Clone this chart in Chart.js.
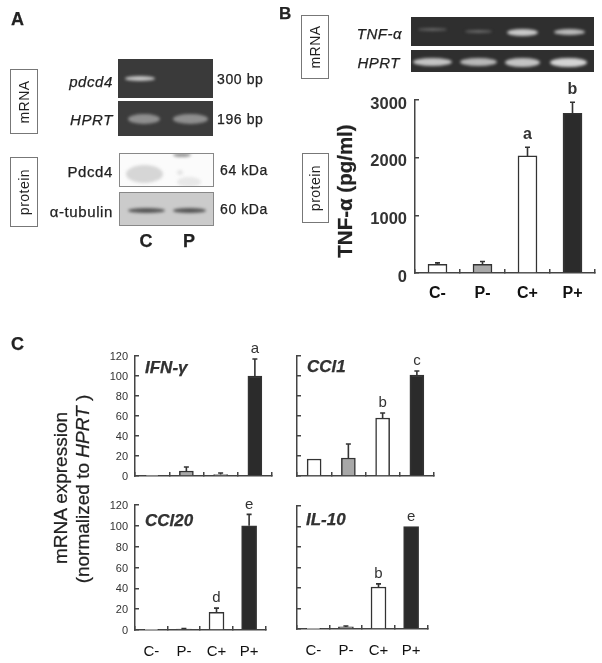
<!DOCTYPE html>
<html>
<head>
<meta charset="utf-8">
<script src="https://cdn.jsdelivr.net/npm/chart.js@4"></script>
<style>
  html, body { margin: 0; padding: 0; background: #fff; }
  #page { position: relative; width: 602px; height: 663px; overflow: hidden; font-family: "Liberation Sans", Arial, sans-serif; color: #222; filter: blur(0.45px); }
  #page canvas { position: absolute; }
  .txt { position: absolute; white-space: nowrap; line-height: 1; -webkit-text-stroke: 0.25px #222; }
  .box { position: absolute; border: 1px solid #777; background: #fff; box-sizing: border-box; display: flex; align-items: center; justify-content: center; }
  .box span { transform: rotate(-90deg); white-space: nowrap; font-size: 14px; letter-spacing: 0.5px; }
  .gel { position: absolute; box-sizing: border-box; overflow: hidden; }
  .band { position: absolute; border-radius: 50%; filter: blur(1.6px); }
</style>
</head>
<body>
<div id="page"></div>
<script>
// Dữ liệu
const categories = ['C-', 'P-', 'C+', 'P+'];
const barColors = ['#ffffff', '#a8a8a8', '#ffffff', '#2b2b2b'];

const tnfValues = [150, 150, 2030, 2770];
const tnfErrors = [175, 200, 2180, 2960];
const tnfLetters = ['', '', 'a', 'b'];
const tnfTicks = [0, 1000, 2000, 3000];

const ifnValues = [0.5, 5, 1.5, 100];
const ifnErrors = [0.5, 9, 3, 117];
const ifnLetters = ['', '', '', 'a'];

const cclOneValues = [17, 18, 58, 101];
const cclOneErrors = [17, 32, 63, 105];
const cclOneLetters = ['', '', 'b', 'c'];

const ccl20Values = [0.3, 1, 17, 100];
const ccl20Errors = [0.3, 1.5, 21, 111];
const ccl20Letters = ['', '', 'd', 'e'];

const il10Values = [0.3, 2, 41, 100];
const il10Errors = [0.3, 3, 44, 100];
const il10Letters = ['', '', 'b', 'e'];

const expressionTicks = [0, 20, 40, 60, 80, 100, 120];

const page = document.getElementById('page');

// Thanh sai số và chữ cái phía trên cột
const errorBarPlugin = {
  id: 'errorBars',
  afterDatasetsDraw(chart, args, opts) {
    const ctx = chart.ctx;
    const y = chart.scales.y;
    const x = chart.scales.x;
    ctx.save();
    ctx.strokeStyle = '#333';
    ctx.lineWidth = 1.6;
    categories.forEach((c, i) => {
      const px = x.getPixelForValue(i);
      const top = y.getPixelForValue(opts.errors[i]);
      const base = y.getPixelForValue(opts.values[i]);
      if (opts.errors[i] > opts.values[i]) {
        ctx.beginPath();
        ctx.moveTo(px, base);
        ctx.lineTo(px, top);
        ctx.moveTo(px - 2.5, top);
        ctx.lineTo(px + 2.5, top);
        ctx.stroke();
      }
      if (opts.letters[i]) {
        ctx.fillStyle = '#333';
        ctx.font = opts.letterFont;
        ctx.textAlign = 'center';
        ctx.textBaseline = 'middle';
        ctx.fillText(opts.letters[i], px, top - opts.letterGap);
      }
    });
    ctx.restore();
  }
};

function makePanel(cfg) {
  const padTop = 24, padRight = 4;
  const canvas = document.createElement('canvas');
  canvas.width = cfg.yWidth + cfg.plotW + padRight;
  canvas.height = padTop + cfg.plotH + cfg.xHeight;
  canvas.style.left = (cfg.axisX - cfg.yWidth) + 'px';
  canvas.style.top = (cfg.axisY - cfg.plotH - padTop) + 'px';
  page.appendChild(canvas);

  new Chart(canvas.getContext('2d'), {
    type: 'bar',
    data: {
      labels: categories,
      datasets: [{
        data: cfg.values,
        backgroundColor: barColors,
        borderColor: '#333',
        borderWidth: 1.5,
        barThickness: cfg.barW
      }]
    },
    plugins: [errorBarPlugin],
    options: {
      responsive: false,
      animation: false,
      devicePixelRatio: 1,
      layout: { padding: { top: padTop, right: padRight, left: 0, bottom: 0 } },
      plugins: {
        legend: { display: false },
        tooltip: { enabled: false },
        errorBars: {
          values: cfg.values,
          errors: cfg.errors,
          letters: cfg.letters,
          letterFont: cfg.letterFont,
          letterGap: cfg.letterGap
        }
      },
      scales: {
        x: {
          afterFit: s => { s.height = cfg.xHeight; },
          border: { color: '#444', width: 1.5 },
          grid: { color: '#444', drawOnChartArea: false, tickLength: -4, lineWidth: 1.5 },
          ticks: {
            display: cfg.showX,
            color: '#111',
            padding: cfg.xPad,
            font: { family: 'Liberation Sans', size: cfg.xFont, weight: cfg.xWeight },
            maxRotation: 0
          }
        },
        y: {
          min: 0,
          max: cfg.max,
          afterFit: s => { s.width = cfg.yWidth; },
          afterBuildTicks: s => { s.ticks = cfg.ticks.map(v => ({ value: v })); },
          border: { color: '#444', width: 1.5 },
          grid: { color: '#444', drawOnChartArea: false, tickLength: -4, lineWidth: 1.5 },
          ticks: {
            display: cfg.showY,
            color: '#333',
            padding: cfg.yPad,
            labelOffset: cfg.yShift,
            callback: v => String(v),
            font: { family: 'Liberation Sans', size: cfg.yFont, weight: cfg.yWeight }
          }
        }
      }
    }
  });
}

// Biểu đồ B
makePanel({
  axisX: 415, axisY: 273, plotW: 180, plotH: 173, yWidth: 50, xHeight: 30, barW: 19, max: 3000, ticks: tnfTicks,
  values: tnfValues, errors: tnfErrors, letters: tnfLetters,
  letterFont: 'bold 16px "Liberation Sans"', letterGap: 13,
  showX: true, showY: true, xFont: 16, xWeight: 'bold', xPad: 15,
  yFont: 16.5, yWeight: 'bold', yPad: 12, yShift: 4
});

// Biểu đồ C
const smallPanel = {
  plotW: 137, yWidth: 40, max: 120, ticks: expressionTicks,
  letterFont: '15px "Liberation Sans"', letterGap: 10,
  xFont: 15, xWeight: 'normal', xPad: 17,
  yFont: 11, yWeight: 'normal', yPad: 11, yShift: 1
};
makePanel(Object.assign({}, smallPanel, { axisX: 135, axisY: 476, plotH: 120, xHeight: 24, barW: 14, showX: false, showY: true,
  values: ifnValues, errors: ifnErrors, letters: ifnLetters }));
makePanel(Object.assign({}, smallPanel, { axisX: 297, axisY: 476, plotH: 120, xHeight: 24, barW: 14, showX: false, showY: false,
  values: cclOneValues, errors: cclOneErrors, letters: cclOneLetters }));
makePanel(Object.assign({}, smallPanel, { axisX: 135, axisY: 630, plotH: 125, xHeight: 30, barW: 15, showX: true, showY: true,
  values: ccl20Values, errors: ccl20Errors, letters: ccl20Letters }));
makePanel(Object.assign({}, smallPanel, { axisX: 297, axisY: 629, plotH: 123, xHeight: 30, barW: 15, showX: true, showY: false,
  values: il10Values, errors: il10Errors, letters: il10Letters }));

// Chữ
function addText(html, x, y, align, style) {
  const d = document.createElement('div');
  d.className = 'txt';
  d.innerHTML = html;
  d.style.cssText = 'left:' + x + 'px;top:' + y + 'px;' + style;
  const tx = align === 'right' ? '-100%' : align === 'center' ? '-50%' : '0';
  d.style.transform = 'translate(' + tx + ',-50%)' + (style.includes('--rot') ? ' rotate(-90deg)' : '');
  page.appendChild(d);
}

function addBox(text, x, y, w, h) {
  const d = document.createElement('div');
  d.className = 'box';
  d.style.cssText = 'left:' + x + 'px;top:' + y + 'px;width:' + w + 'px;height:' + h + 'px;';
  d.innerHTML = '<span>' + text + '</span>';
  page.appendChild(d);
}

// Dải gel / western blot
function addGel(x, y, w, h, bg, bands) {
  const d = document.createElement('div');
  d.className = 'gel';
  d.style.cssText = 'left:' + x + 'px;top:' + y + 'px;width:' + w + 'px;height:' + h + 'px;background:' + bg + ';';
  bands.forEach(b => {
    const s = document.createElement('div');
    s.className = 'band';
    s.style.cssText = 'left:' + (b[0] - x) + 'px;width:' + b[1] + 'px;top:' + (b[2] - y - b[3] / 2) + 'px;height:' + b[3] + 'px;background:' + b[4] + ';';
    d.appendChild(s);
  });
  page.appendChild(d);
}

addText('A', 11, 19, 'left', 'font-size:18px;font-weight:bold;');
addText('B', 279, 13, 'left', 'font-size:17px;font-weight:bold;');
addText('C', 11, 344, 'left', 'font-size:18px;font-weight:bold;');

addBox('mRNA', 10, 69, 28, 65);
addBox('protein', 10, 157, 28, 70);
addBox('mRNA', 301, 15, 28, 64);
addBox('protein', 302, 153, 27, 70);

// A
addGel(118, 59, 95, 39, '#3a3a3a', [[125, 30, 78, 5, '#c4c4c4']]);
addGel(118, 101, 95, 35, '#3c3c3c', [[128, 32, 119, 10, '#8f8f8f'], [173, 35, 119, 10, '#8f8f8f']]);
addGel(119, 153, 95, 34, '#fbfbfb', [[125, 37, 173, 18, '#d6d6d6'], [176, 6, 171, 5, '#e4e4e4'], [176, 24, 181, 10, '#e8e8e8'], [172, 18, 154, 4, '#999']]);
addGel(119, 192, 95, 34, '#cbcbcb', [[127, 37, 209, 5, '#555'], [172, 33, 209, 5, '#555']]);
document.querySelectorAll('.gel').forEach((g, i) => { if (i > 1) g.style.border = '1px solid #888'; });

const labelA = 'font-size:14px;letter-spacing:0.6px;';
addText('<i>pdcd4</i>', 113, 81, 'right', labelA + 'font-size:15px;');
addText('<i>HPRT</i>', 113, 119, 'right', labelA + 'font-size:15px;');
addText('Pdcd4', 113, 171, 'right', labelA + 'font-size:15px;');
addText('α-tubulin', 113, 211, 'right', labelA + 'font-size:15px;');
addText('300 bp', 217, 79, 'left', labelA);
addText('196 bp', 217, 119, 'left', labelA);
addText('64 kDa', 220, 170, 'left', labelA);
addText('60 kDa', 220, 209, 'left', labelA);
addText('C', 146, 241, 'center', 'font-size:18px;font-weight:bold;');
addText('P', 189, 241, 'center', 'font-size:18px;font-weight:bold;');

// B
addGel(411, 17, 183, 29, '#2f2f2f', [[418, 29, 29, 3, '#666'], [465, 27, 31, 3, '#6a6a6a'], [507, 31, 32, 7, '#c9c9c9'], [554, 31, 32, 6, '#bbbbbb']]);
addGel(411, 50, 183, 22, '#2f2f2f', [[413, 39, 62, 8, '#c4c4c4'], [460, 37, 62, 8, '#b8b8b8'], [505, 35, 62, 9, '#c4c4c4'], [550, 37, 62, 9, '#d4d4d4']]);
addText('<i>TNF-α</i>', 402, 33, 'right', 'font-size:15px;letter-spacing:0.5px;');
addText('<i>HPRT</i>', 400, 62, 'right', 'font-size:15px;letter-spacing:0.5px;');
addText('TNF-α (pg/ml)', 345, 191, 'center', '--rot:1;font-size:20.5px;font-weight:bold;');

// C
addText('<i><b>IFN-γ</b></i>', 145, 367, 'left', 'font-size:17px;color:#333;');
addText('<i><b>CCl1</b></i>', 307, 366, 'left', 'font-size:17px;color:#333;');
addText('<i><b>CCl20</b></i>', 145, 520, 'left', 'font-size:17px;color:#333;');
addText('<i><b>IL-10</b></i>', 306, 519, 'left', 'font-size:17px;color:#333;');
addText('mRNA expression', 60, 488, 'center', '--rot:1;font-size:19px;');
addText('(normalized to <i>HPRT</i> )', 82, 489, 'center', '--rot:1;font-size:19px;');
</script>
</body>
</html>
